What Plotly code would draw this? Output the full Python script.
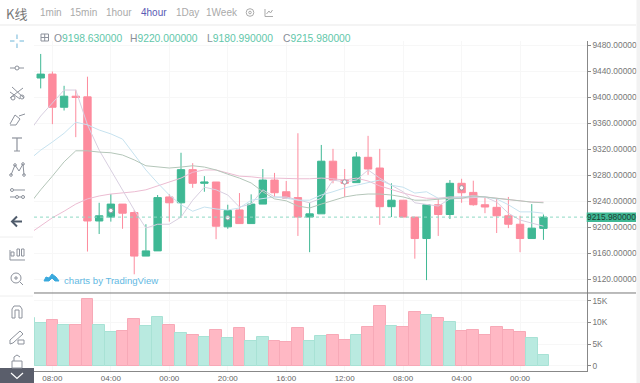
import plotly.graph_objects as go

W, H = 640, 383

index = list(range(44))
opens = [9430,9436,9385,9402,9401,9210,9216,9236,9223,9156,9164,9247,9238,9289,9268,9270,9201,9227,9206,9236,9273,9255,9246,9216,9221,9302,9273,9269,9308,9291.5,9232,9242,9216,9183,9235,9220,9268,9254,9235,9231,9218,9205,9183,9198.63]
highs = [9467,9440,9418,9412,9432,9238,9251.5,9236,9227,9205,9250,9251.5,9315,9299,9279,9270,9235,9253,9251,9290,9284,9271.5,9345,9238,9327,9321,9290,9316,9341,9321,9268,9242,9216,9235,9244,9273,9275,9272,9246,9244,9247,9218,9236,9220]
lows = [9414,9359,9380,9339,9163,9190,9209,9198,9128,9156,9164,9209,9215,9261,9255,9182,9198,9206,9206,9236,9247,9245,9187,9162,9221,9268,9247,9269,9281,9204,9216,9216,9152,9119,9187,9213,9238,9233.5,9222,9191.5,9199,9162,9183,9180.99]
closes = [9436,9385,9402,9400,9210,9218,9236,9222,9156,9164,9246,9238,9289,9268,9270,9202,9226,9206,9236,9273,9253.5,9245,9216,9221,9302,9273,9268,9308.5,9290,9232,9242,9216,9183,9235,9220,9268,9253.5,9235,9231.5,9218,9205,9183,9199,9215.98]

line_index = list(range(-1, 44))
ma_fast = [9347,9371.5,9391.5,9411.5,9411.5,9358,9319,9288.5,9256,9227,9199,9205,9205,9216,9242,9262,9258,9250,9231.5,9236,9258,9247,9247,9242,9238,9245,9273,9270,9273,9288.5,9276,9265,9255,9238,9235,9233,9244,9245,9245,9247,9239,9222,9211.5,9207,9202]
ma_mid = [9304,9319,9331.5,9345,9362,9358,9350,9344,9336,9311.5,9288.5,9268.5,9250,9235,9225,9231.5,9228.5,9227,9230,9242,9245,9247,9245,9242,9242,9250,9255,9261,9265,9268.5,9273,9265,9262,9253,9255,9245,9245,9247,9248.5,9247,9244,9235,9224,9224,9222]
ma_slow = [9235,9258,9279,9301,9318,9318,9316,9315,9311.5,9304,9295,9293,9291.5,9293,9295,9293,9288.5,9282,9276,9268.5,9255,9244,9241,9233,9230,9236,9242,9247,9250,9251.5,9251.5,9250,9247,9242,9242,9244,9245,9245,9248.5,9247,9245,9242,9241,9239,9238]
ma_long = [9190,9202,9215,9225,9236,9244,9248.5,9251.5,9253,9255,9258,9264,9270,9276,9285,9288.5,9288.5,9284,9279,9278,9276,9276,9275,9275,9275,9276,9275,9273,9276,9271.5,9264,9258,9253,9248.5,9245,9245,9247,9247,9248.5,9247,9245,9242,9241,9239,9239]

dot_index = [6, 16, 26, 36]
dot_values = [9226, 9215, 9270, 9261]

vol_index = list(range(-1, 44))
volumes = [11100,9800,10500,9500,9400,15400,9400,7700,8000,10900,9200,11200,9500,7500,7200,6600,8200,6300,8600,5700,6700,5800,5400,8800,5700,6800,7200,5900,7200,9000,13800,9200,9000,12500,11700,11100,10100,8000,8200,7100,9000,8200,7800,6400,2500]
vol_up = [1,1,0,1,0,0,1,1,0,0,1,1,0,1,0,1,0,1,0,1,1,0,0,0,1,1,0,0,1,0,0,1,0,0,1,0,1,0,0,0,0,0,0,1,1]

price_ticks = [9120,9160,9200,9240,9280,9320,9360,9400,9440,9480]
price_labels = ["9120.00000","9160.00000","9200.00000","9240.00000","9280.00000","9320.00000","9360.00000","9400.00000","9440.00000","9480.00000"]
vol_ticks = [0,5000,10000,15000]
vol_labels = ["0","5K","10K","15K"]
time_ticks = [1,6,11,16,21,26,31,36,41]
time_labels = ["08:00","04:00","00:00","20:00","16:00","12:00","08:00","04:00","00:00"]
last_price = 9215.98
periods = [("1min",40),("15min",70),("1hour",106),("4hour",141),("1Day",176),("1Week",206)]
ohlc = [("O","9198.630000",54),("H","9220.000000",130),("L","9180.990000",207),("C","9215.980000",283)]

GREEN = "#3fb894"; RED = "#fd8b9d"; FONT = "Liberation Sans"
GRID = "#f7f7f7"


def px(x):
    return x / W


def py(y):
    return 1 - y / H


fig = go.Figure()
for vals, col, w in [(ma_long, "#ecbcd2", 1), (ma_fast, "#d8cfe0", 1), (ma_mid, "#c6e2ef", 1), (ma_slow, "#b4c6b9", 1)]:
    fig.add_trace(go.Scatter(x=line_index, y=vals, mode="lines", line=dict(color=col, width=w), yaxis="y", xaxis="x", hoverinfo="skip"))
fig.add_trace(go.Candlestick(x=index, open=opens, high=highs, low=lows, close=closes, whiskerwidth=0,
                             increasing=dict(line=dict(color=GREEN, width=1), fillcolor=GREEN),
                             decreasing=dict(line=dict(color=RED, width=1), fillcolor=RED),
                             xaxis="x", yaxis="y"))
fig.add_trace(go.Scatter(x=dot_index, y=dot_values, mode="markers", xaxis="x", yaxis="y", hoverinfo="skip",
                         marker=dict(size=4.5, color="#ffffff", line=dict(color="#9a9aa5", width=1))))
fig.add_trace(go.Bar(x=vol_index, y=volumes, xaxis="x2", yaxis="y2", width=1,
                     marker=dict(color=["#b9eae0" if u else "#ffb8c4" for u in vol_up],
                                 line=dict(color=["#a8e2d5" if u else "#f7a9b7" for u in vol_up], width=1))))

x_range = [-0.573, 46.7]
dom_x = [px(34), px(586.7)]
axis_common = dict(showgrid=True, gridcolor=GRID, gridwidth=1, zeroline=False)
fig.update_layout(
    width=W, height=H, margin=dict(l=0, r=0, t=0, b=0), autosize=False, showlegend=False,
    paper_bgcolor="#ffffff", plot_bgcolor="#ffffff", bargap=0, boxgap=0.3, boxgroupgap=0.1,
    font=dict(family=FONT, size=9, color="#777777"),
    xaxis=dict(domain=dom_x, range=x_range, anchor="y", tickvals=time_ticks, showticklabels=False, ticks="",
               rangeslider=dict(visible=False), showline=False, **axis_common),
    xaxis2=dict(domain=dom_x, range=x_range, anchor="y2", tickvals=time_ticks, ticktext=time_labels, ticks="",
                showline=True, linecolor="#888888", linewidth=1,
                tickfont=dict(size=8, color="#666666"), **axis_common),
    yaxis=dict(domain=[py(293), py(41)], range=[9550 - 1.5385 * 293, 9550 - 1.5385 * 41], anchor="x", side="right",
               tickvals=price_ticks, ticktext=price_labels, ticks="outside", ticklen=3, tickcolor="#888888",
               showline=True, linecolor="#888888", linewidth=1, tickfont=dict(size=8.4, color="#777777"), **axis_common),
    yaxis2=dict(domain=[py(370.7), py(293)], range=[-1155, 16800], anchor="x2", side="right",
                tickvals=vol_ticks, ticktext=vol_labels, ticks="outside", ticklen=3, tickcolor="#888888",
                showline=True, linecolor="#888888", linewidth=1, tickfont=dict(size=8.4, color="#777777"), **axis_common),
)

shapes = []


def pline(pts, color, width=1, fill=None, close=False):
    d = "M" + " L".join(f"{px(x):.5f},{py(y):.5f}" for x, y in pts) + (" Z" if close else "")
    shapes.append(dict(type="path", xref="paper", yref="paper", path=d, line=dict(color=color, width=width),
                       fillcolor=fill if fill else "rgba(0,0,0,0)", layer="above"))


def prect(x0, y0, x1, y1, fill, line=None):
    shapes.append(dict(type="rect", xref="paper", yref="paper", x0=px(x0), x1=px(x1), y0=py(y0), y1=py(y1),
                       fillcolor=fill, line=dict(color=line or fill, width=1 if line else 0), layer="above"))


def pcirc(cx, cy, r, color, fill=None, width=1):
    shapes.append(dict(type="circle", xref="paper", yref="paper", x0=px(cx - r), x1=px(cx + r), y0=py(cy + r), y1=py(cy - r),
                       fillcolor=fill if fill else "rgba(0,0,0,0)", line=dict(color=color, width=width), layer="above"))


ICON = "#8d929c"
# frame lines
pline([(0, 25), (636, 25)], "#e9e9e9")
pline([(34, 293), (636, 293)], "#777777")
pline([(0, 237), (33, 237)], "#eeeeee")
pline([(0, 296), (33, 296)], "#eeeeee")
prect(636.5, 0, 640, 383, "#f2f2f2")
# last-price guide
shapes.append(dict(type="line", xref="paper", yref="y", x0=px(34), x1=px(636), y0=last_price, y1=last_price,
                   line=dict(color="#8fd9c4", width=1, dash="dot"), layer="above"))
prect(586.7, 212.5, 636, 222, GREEN)
# bottom collapse box
prect(0, 368, 34, 383, "#5a5e6b")
pline([(11, 373), (17, 378.5), (23, 373)], "#ffffff", 1.2)
# crosshair
for a, b in [((17, 34.5), (17, 39)), ((17, 43.5), (17, 48)), ((10, 41), (14.5, 41)), ((19.5, 41), (24, 41))]:
    pline([a, b], "#6fb6d8", 1)
# horizontal line tool
pline([(10, 68), (24, 68)], ICON)
pcirc(17, 68, 2, ICON, "#ffffff")
# fork tool
pline([(10, 98), (23, 88)], ICON); pline([(12, 87), (24, 98)], ICON); pline([(10, 92), (20, 99)], ICON)
pcirc(13, 98, 2, ICON); pcirc(22, 97, 2, ICON)
# brush
pline([(10, 124), (15, 115), (20, 119), (16, 125), (10, 125)], ICON); pline([(19, 116), (25, 114)], ICON)
# T
pline([(12, 138), (22, 138)], ICON, 1.2); pline([(17, 138), (17, 151)], ICON, 1.2); pline([(14, 151), (20, 151)], ICON)
# pattern
pline([(11, 175), (15, 165), (19, 171), (23, 164), (24, 175)], ICON)
for c in [(11, 175), (15, 165), (23, 164), (24, 175)]:
    pcirc(c[0], c[1], 1.3, ICON)
# measure
for yy in (190, 197):
    pline([(10, yy), (25, yy)], ICON)
pcirc(12, 190, 1.5, ICON, "#ffffff"); pcirc(17, 197, 1.5, ICON, "#ffffff"); pcirc(23, 197, 1.5, ICON, "#ffffff")
# back arrow
pline([(22, 221.5), (12, 221.5)], "#4f5b6b", 2); pline([(17, 216.5), (12, 221.5), (17, 226.5)], "#4f5b6b", 2)
# candles icon
pline([(10, 250), (10, 260), (25, 260)], ICON); prect(11, 252, 14, 256, "#ffffff", ICON)
prect(17, 249, 19.5, 256, "#ffffff", ICON); prect(21.5, 249, 24, 256, "#ffffff", ICON)
# zoom
pcirc(16, 278, 5, ICON); pline([(20, 282), (23, 285)], ICON); pline([(14, 278), (18, 278)], ICON); pline([(16, 276), (16, 280)], ICON)
# magnet
pline([(12, 318), (12, 309), (14, 306), (20, 306), (22, 309), (22, 318), (19, 318), (19, 310), (15, 310), (15, 318), (12, 318)], ICON)
# pencil + lock
pline([(10, 340), (20, 331), (23, 334), (13, 343), (10, 344), (10, 340)], ICON); prect(18, 340, 24, 344, "#ffffff", ICON)
# lock
prect(12, 361, 22, 368, "#ffffff", ICON); pline([(14, 361), (14, 357), (17, 355), (20, 357)], ICON)
# gear + small chart icon
pcirc(250, 12.5, 3.8, "#aaaaaa"); pcirc(250, 12.5, 1.3, "#aaaaaa")
pline([(265, 9), (265, 16.5), (273, 16.5)], "#aaaaaa"); pline([(266.5, 14), (269, 11), (270.5, 13), (272.5, 10)], "#aaaaaa")
# legend square
prect(41, 34, 48.5, 41, "#ffffff", "#8d929c"); pline([(44.7, 34), (44.7, 41)], "#8d929c"); pline([(41, 37.5), (48.5, 37.5)], "#8d929c")
# TradingView cloud
pline([(44, 281), (46, 277), (49, 278), (52, 274), (56, 277), (59, 281), (55, 281), (52, 278), (49, 281)], "#3aa9dd", 1, "#3aa9dd", True)

fig.update_layout(shapes=shapes)

ann = []


def text(x, y, s, size, color, family=FONT, anchor="left"):
    ann.append(dict(xref="paper", yref="paper", x=px(x), y=py(y), text=s, showarrow=False, xanchor=anchor, yanchor="middle",
                    align="left", font=dict(size=size, color=color, family=family), borderpad=0, borderwidth=0))


text(6, 13, "K线", 13, "#777777", "Noto Sans CJK SC")
for label, xpos in periods:
    text(xpos, 12, label, 10, "#5a5ab4" if label == "4hour" else "#aaaaaa")
for label, value, xpos in ohlc:
    text(xpos, 39, f'<span style="color:#8a8f99">{label}</span>{value}', 10.3, "#62c7aa")
text(64, 280, "charts by TradingView", 9.6, "#63b9e3")
ann.append(dict(xref="paper", yref="y", x=px(611.5), y=last_price, text="9215.980000", showarrow=False, xanchor="center",
                yanchor="middle", font=dict(size=8.4, color="#1d3d33", family=FONT)))
fig.update_layout(annotations=ann)

fig.write_html("out.html", config=dict(displayModeBar=False),
               post_script="document.body.style.margin='0';document.body.style.overflow='hidden';")
